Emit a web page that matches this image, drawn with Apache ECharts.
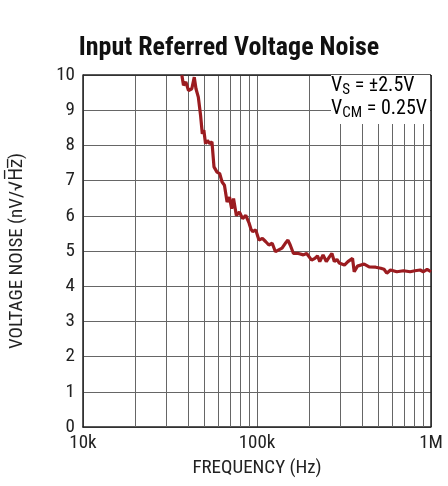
<!DOCTYPE html>
<html>
<head>
<meta charset="utf-8">
<script src="https://cdn.jsdelivr.net/npm/echarts@6/dist/echarts.min.js"></script>
<style>
  html, body { margin: 0; padding: 0; background: #fff; }
  #noiseChart { width: 448px; height: 486px; }
</style>
</head>
<body>
<div id="noiseChart"></div>
<script>
var FONT = "'Liberation Sans Narrow', 'Roboto Condensed', 'DejaVu Sans Condensed', 'Liberation Sans', sans-serif";

// frequency (Hz) and noise (nV/rtHz)
var freq = [37000, 37800, 39000, 40400, 42200, 43600, 44600, 46000, 47400, 48500,
    49500, 50600, 51900, 53500, 55100, 56600, 58900, 61000, 63000, 65000,
    67300, 69500, 71500, 73300, 76100, 79200, 82700, 86200, 88000, 90100,
    92200, 94400, 98300, 102600, 107400, 112000, 117000, 122300, 127600, 133300,
    139300, 145400, 150600, 155200, 162000, 173000, 184700, 192900, 206000, 215100,
    222700, 229500, 239700, 250200, 261300, 269500, 278200, 288000, 296600, 303000,
    318000, 333000, 354000, 362000, 378000, 413000, 441000, 481000, 514000, 537000,
    557000, 585000, 636000, 695000, 759000, 809000, 867000, 904000, 950000, 1000000];
var noise = [9.99, 9.71, 9.80, 9.56, 9.61, 9.94, 9.61, 9.37, 8.85, 8.33,
    8.43, 8.05, 8.14, 8.05, 8.10, 7.39, 7.24, 7.20, 6.96, 6.87,
    6.39, 6.53, 6.20, 6.49, 6.01, 6.11, 5.92, 6.01, 6.02, 5.79,
    5.63, 5.55, 5.60, 5.31, 5.36, 5.27, 5.17, 5.22, 4.98, 5.03,
    5.08, 5.22, 5.31, 5.17, 4.93, 4.93, 4.89, 4.93, 4.74, 4.79,
    4.86, 4.70, 4.89, 4.70, 4.84, 4.93, 4.70, 4.76, 4.66, 4.65,
    4.60, 4.70, 4.79, 4.41, 4.57, 4.63, 4.55, 4.54, 4.51, 4.48,
    4.37, 4.46, 4.41, 4.44, 4.41, 4.44, 4.46, 4.41, 4.48, 4.41];

// minor decade lines
var minorFreq = [20000, 30000, 40000, 50000, 60000, 70000, 80000, 90000,
    200000, 300000, 400000, 500000, 600000, 700000, 800000, 900000];
var xTickLabels = { 10000: '10k', 100000: '100k', 1000000: '1M' };

var chart = echarts.init(document.getElementById('noiseChart'));

var data = [];
for (var i = 0; i < freq.length; i++) {
    data.push([freq[i], noise[i]]);
}

var option = {
    animation: false,
    title: {
        text: 'Input Referred Voltage Noise',
        left: 224,
        top: 30,
        textAlign: 'center',
        textStyle: { fontFamily: FONT, fontWeight: 'bold', fontSize: 26, color: '#111' }
    },
    grid: { left: 78, right: 17, top: 75, bottom: 59, containLabel: false },
    xAxis: {
        type: 'log',
        logBase: 10,
        min: 10000,
        max: 1000000,
        name: 'FREQUENCY (Hz)',
        nameLocation: 'middle',
        nameGap: 32,
        nameTextStyle: { fontFamily: FONT, fontSize: 19, color: '#222' },
        axisLine: { lineStyle: { color: '#222', width: 1.5 } },
        axisTick: { show: false },
        axisLabel: {
            fontFamily: FONT, fontSize: 19, color: '#222', margin: 7,
            formatter: function (v) { return xTickLabels[v] || ''; }
        },
        splitLine: { show: true, lineStyle: { color: '#666', width: 1 } }
    },
    yAxis: {
        type: 'value',
        min: 0,
        max: 10,
        interval: 1,
        name: 'VOLTAGE NOISE (nV/\u221AH\u0305z\u0305)',
        nameLocation: 'middle',
        nameGap: 56,
        nameTextStyle: { fontFamily: FONT, fontSize: 19, color: '#222' },
        axisLine: { show: true, lineStyle: { color: '#222', width: 1.5 } },
        axisTick: { show: false },
        axisLabel: { fontFamily: FONT, fontSize: 19, color: '#222', margin: 8 },
        splitLine: { show: true, lineStyle: { color: '#666', width: 1 } }
    },
    graphic: [
        {
            type: 'rect',
            shape: { x: 0, y: 0, width: 99, height: 49 },
            left: 331, top: 75,
            z: 50,
            style: { fill: '#fff' }
        },
        {
            type: 'text',
            right: 21, top: 76,
            z: 51,
            style: {
                text: '{a|V}{s|S}{a| = \u00B12.5V}\n{a|V}{s|CM}{a| = 0.25V}',
                align: 'right',
                rich: {
                    a: { fontFamily: FONT, fontSize: 20, color: '#111', lineHeight: 23, verticalAlign: 'middle' },
                    s: { fontFamily: FONT, fontSize: 15, color: '#111', lineHeight: 23, verticalAlign: 'bottom' }
                }
            }
        }
    ],
    series: [
        {
            type: 'line',
            data: [],
            silent: true,
            z: 1,
            markLine: {
                silent: true,
                symbol: ['none', 'none'],
                label: { show: false },
                lineStyle: { color: '#666', width: 1, type: 'solid' },
                data: minorFreq.map(function (f) { return { xAxis: f }; })
            }
        },
        {
            type: 'line',
            data: data,
            showSymbol: false,
            z: 10,
            lineStyle: { color: '#9b1c20', width: 3.2 },
            clip: true
        },
        {
            // frame on the top and right
            type: 'line',
            data: [],
            silent: true,
            z: 60,
            markLine: {
                silent: true,
                symbol: ['none', 'none'],
                label: { show: false },
                lineStyle: { color: '#222', width: 1.5, type: 'solid' },
                data: [{ xAxis: 1000000 }, { yAxis: 10 }]
            }
        }
    ]
};

chart.setOption(option);

window.addEventListener('resize', function () {
    chart.resize();
});
</script>
</body>
</html>
